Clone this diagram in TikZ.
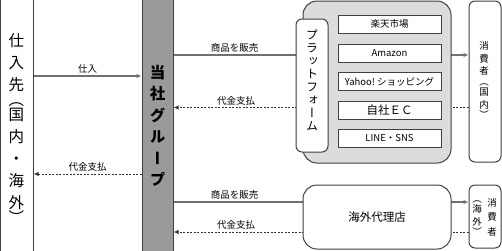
\documentclass[tikz,border=0pt]{standalone}
\usepackage{fontspec}
\setmainfont{Noto Sans CJK JP}
\newfontfamily\jpv[RawFeature=+vert]{Noto Sans CJK JP}
\usetikzlibrary{arrows.meta,backgrounds}
\definecolor{edgec}{HTML}{404040}
\definecolor{linec}{HTML}{707070}
\definecolor{dashc}{HTML}{333333}
\definecolor{barc}{HTML}{9A9A9A}
\definecolor{contc}{HTML}{DCDCDC}
\tikzset{
  box/.style={draw=edgec, line width=1pt, fill=white, inner sep=0pt},
  rbox/.style={box, rounded corners=6pt},
  bigr/.style={box, rounded corners=14pt},
  ibox/.style={box, minimum width=103pt, minimum height=18pt, font=\fontsize{9.5}{10}\selectfont},
  solidline/.style={draw=linec, line width=1.1pt, -{Latex[length=5pt,width=4.5pt]}},
  dashline/.style={draw=dashc, line width=1pt, dash pattern=on 2pt off 1.5pt, -{Latex[length=5pt,width=4.5pt]}},
  lbl/.style={font=\fontsize{9.5}{10}\selectfont, inner sep=0pt},
  vt/.style={align=center, inner sep=0pt},
}
\begin{document}
\begin{tikzpicture}[x=1pt,y=-1pt]
\useasboundingbox (0,0) rectangle (502,250);
\clip (0,0) rectangle (502,250);
% main boxes
\node[box, minimum width=32.5pt, minimum height=260pt] (supplier) at (16.75,125) {};
\node[box, fill=barc, draw=edgec, minimum width=31pt, minimum height=260pt] (group) at (157.5,125) {};
\node[bigr, fill=contc, minimum width=148pt, minimum height=162pt] (cont) at (377,82) {};
\node[rbox, minimum width=32pt, minimum height=133pt] (plat) at (312,85.5) {};
\node[rbox, minimum width=32pt, minimum height=161pt] (cons1) at (485,81.5) {};
\node[bigr, minimum width=148pt, minimum height=64pt, font=\fontsize{11.5}{12}\selectfont] (agency) at (377,217) {海外代理店};
\node[rbox, minimum width=32pt, minimum height=63pt] (cons2) at (485,216.5) {};
% inner platform boxes
\node[ibox] (rakuten) at (389.5,24) {楽天市場};
\node[ibox] (amazon) at (389.5,53) {Amazon};
\node[ibox] (yahoo) at (389.5,81.5) {Yahoo!\ ショッピング};
\node[ibox, font=\fontsize{11.5}{12}\selectfont] (ec) at (389.5,110) {自社ＥＣ};
\node[ibox] (line) at (389.5,138.5) {LINE・SNS};
% vertical texts
\node[vt, font=\jpv\fontsize{15.5}{22}\selectfont] (suptext) at (16.5,128)
  {仕\\入\\先\\[-7pt]︵\\[-7pt]国\\内\\・\\海\\外\\[-7pt]︶};
\node[vt, font=\jpv\bfseries\fontsize{15.5}{21.5}\selectfont] (grptext) at (157.5,126)
  {当\\社\\グ\\ル\\ー\\プ};
\node[vt, font=\jpv\fontsize{12}{13}\selectfont] (plattext) at (312,80)
  {プ\\ラ\\ッ\\ト\\フ\\ォ\\ー\\ム};
\node[vt, font=\jpv\fontsize{9.5}{12.5}\selectfont] (c1text) at (484,80)
  {消\\費\\者\\[-2pt]︵\\[-2pt]国\\内\\[-2pt]︶};
\node[vt, font=\jpv\fontsize{9.5}{14.5}\selectfont] (c2texta) at (492,217)
  {消\\費\\者};
\node[vt, font=\jpv\fontsize{9.5}{12.5}\selectfont] (c2textb) at (477,218)
  {︵\\[-2pt]海\\外\\[-2pt]︶};
% connectors
\begin{scope}[on background layer]
\draw[solidline] (supplier.east |- 0,76) -- (group.west |- 0,76);
\draw[dashline] (group.west |- 0,174) -- (supplier.east |- 0,174);
\draw[solidline] (group.east |- 0,55) -- (cons1.west |- 0,55);
\draw[dashline] (cons1.west |- 0,107.5) -- (group.east |- 0,107.5);
\draw[solidline] (group.east |- 0,202) -- (cons2.west |- 0,202);
\draw[dashline] (cons2.west |- 0,232) -- (group.east |- 0,232);
\end{scope}
% labels
\node[lbl] (l1) at (87.5,69) {仕入};
\node[lbl] (l2) at (87.5,167) {代金支払};
\node[lbl] (l3) at (234.5,48) {商品を販売};
\node[lbl] (l4) at (236,101) {代金支払};
\node[lbl] (l5) at (234.5,195) {商品を販売};
\node[lbl] (l6) at (236,225) {代金支払};
\end{tikzpicture}
\end{document}
